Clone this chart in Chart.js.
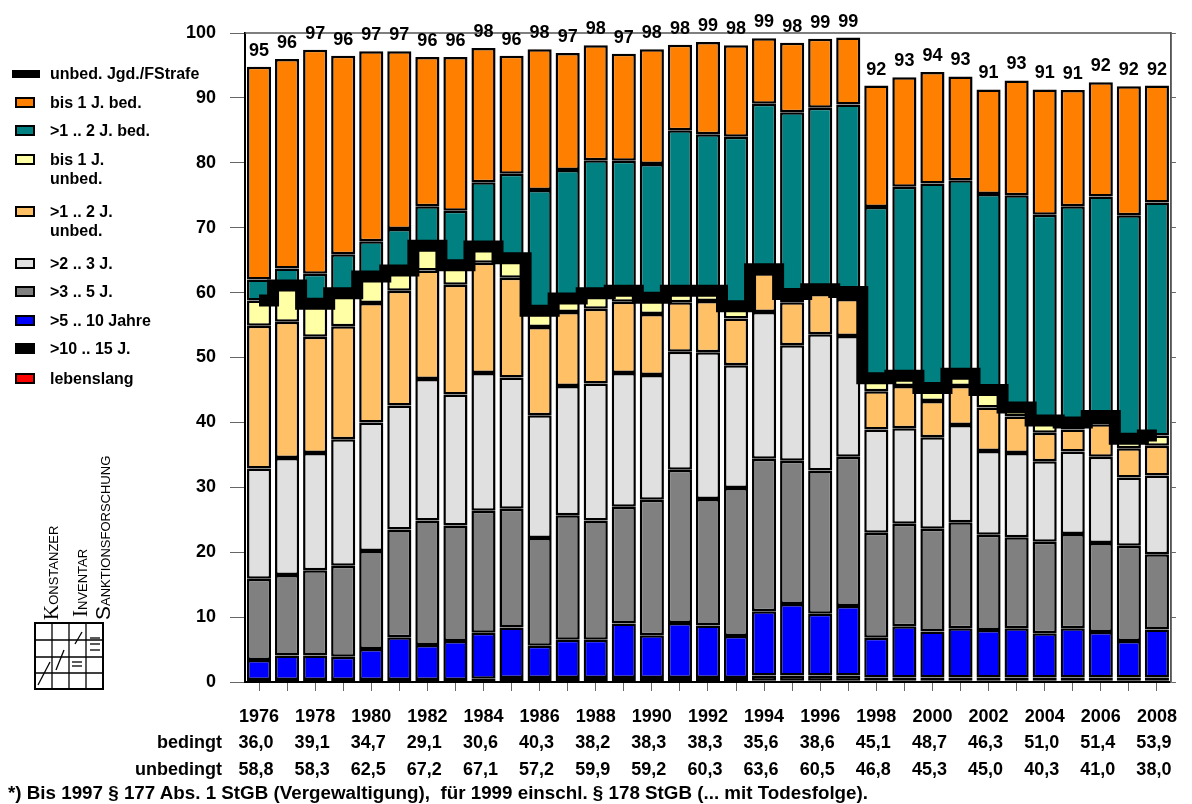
<!DOCTYPE html>
<html lang="de">
<head>
<meta charset="utf-8">
<title>Sanktionen Vergewaltigung</title>
<script src="https://cdn.jsdelivr.net/npm/chart.js@4.4.1/dist/chart.umd.min.js"></script>
<style>
    body { margin: 0; background: #fff; font-family: "Liberation Sans", Arial, sans-serif; }
    #wrap { position: relative; width: 1192px; height: 804px; overflow: hidden; }
    #chart { position: absolute; left: 0; top: 0; }
    .leg { position: absolute; left: 0; top: 0; width: 240px; height: 420px; font-weight: bold; font-size: 16px; color: #000; }
    .leg .item { position: absolute; left: 50px; line-height: 19px; white-space: nowrap; }
    .leg .box { position: absolute; width: 16px; height: 7px; border: 2px solid #000; }
    .row { position: absolute; left: 0; width: 1192px; height: 22px; font-weight: bold; font-size: 18px; color: #000; white-space: nowrap; }
    .cell { position: absolute; top: 0; transform: translateX(-50%); }
    .rowname { position: absolute; top: 0; right: 970px; }
    #note { position: absolute; left: 8px; top: 782px; font-weight: bold; font-size: 18.8px; white-space: nowrap; }
</style>
</head>
<body>
<div id="wrap">
    <canvas id="chart" width="1192" height="804"></canvas>
    <div class="leg" id="legend"></div>
    <svg id="logo" width="130" height="300" style="position:absolute;left:20px;top:400px">
        <g font-family="Liberation Sans, Arial, sans-serif" fill="#000">
            <text transform="translate(38,220) rotate(-90)" font-size="13"><tspan font-family="Liberation Serif" font-size="21">K</tspan>ONSTANZER</text>
            <text transform="translate(67,217) rotate(-90)" font-size="13"><tspan font-family="Liberation Serif" font-size="21">I</tspan>NVENTAR</text>
            <text transform="translate(90,220) rotate(-90)" font-size="13"><tspan font-size="21">S</tspan>ANKTIONSFORSCHUNG</text>
        </g>
        <g stroke="#000" fill="none" stroke-width="1.3">
            <rect x="15" y="223" width="68" height="66" stroke-width="2"/>
            <line x1="15" y1="240" x2="83" y2="240"/>
            <line x1="15" y1="257" x2="83" y2="257"/>
            <line x1="15" y1="273" x2="83" y2="273"/>
            <line x1="32" y1="223" x2="32" y2="289"/>
            <line x1="49" y1="223" x2="49" y2="289"/>
            <line x1="66" y1="223" x2="66" y2="289"/>
            <line x1="18" y1="285" x2="30" y2="262"/>
            <line x1="36" y1="270" x2="44" y2="250"/>
            <line x1="55" y1="244" x2="62" y2="232"/>
            <line x1="70" y1="238" x2="80" y2="238"/>
            <line x1="70" y1="244" x2="80" y2="244"/>
            <line x1="70" y1="250" x2="80" y2="250"/>
            <line x1="52" y1="262" x2="62" y2="262"/>
            <line x1="52" y1="266" x2="62" y2="266"/>
        </g>
    </svg>
    <div class="row" id="rowYearsB" style="top:732px"><span class="rowname">bedingt</span></div>
    <div class="row" id="rowYearsU" style="top:759px"><span class="rowname">unbedingt</span></div>
    <div id="note">*) Bis 1997 § 177 Abs. 1 StGB (Vergewaltigung),&nbsp; für 1999 einschl. § 178 StGB (... mit Todesfolge).</div>
</div>
<script>
// Jahre (Kategorien)
const jahre = ['1976', '1977', '1978', '1979', '1980', '1981', '1982', '1983', '1984', '1985',
    '1986', '1987', '1988', '1989', '1990', '1991', '1992', '1993', '1994', '1995',
    '1996', '1997', '1998', '1999', '2000', '2001', '2002', '2003', '2004', '2005',
    '2006', '2007', '2008'];

// Anteile in % (von unten nach oben gestapelt)
const lebenslang = [0.1, 0.1, 0.1, 0.1, 0.1, 0.1, 0.1, 0.1, 0.1, 0.1,
    0.1, 0.1, 0.1, 0.1, 0.1, 0.1, 0.1, 0.1, 0.2, 0.2,
    0.2, 0.2, 0.2, 0.2, 0.2, 0.2, 0.2, 0.2, 0.2, 0.2,
    0.2, 0.2, 0.2];
const j10bis15 = [0.2, 0.2, 0.2, 0.2, 0.2, 0.2, 0.2, 0.2, 0.4, 0.5,
    0.5, 0.5, 0.5, 0.5, 0.5, 0.5, 0.5, 0.5, 0.8, 0.8,
    0.8, 0.8, 0.5, 0.5, 0.5, 0.5, 0.5, 0.5, 0.5, 0.5,
    0.5, 0.5, 0.5];
const j5bis10 = [3.1, 3.8, 3.8, 3.6, 4.8, 6.6, 5.4, 6.0, 7.1, 7.8,
    5.0, 5.9, 5.9, 8.4, 6.6, 8.5, 8.1, 6.5, 9.9, 11.0,
    9.5, 10.7, 6.1, 7.9, 7.1, 7.6, 7.3, 7.6, 6.8, 7.6,
    7.0, 5.6, 7.4];
const j3bis5 = [12.5, 12.4, 13.1, 14.0, 15.1, 16.6, 19.2, 17.8, 18.8, 18.3,
    16.6, 19.2, 18.4, 18.0, 20.9, 23.6, 19.5, 22.8, 23.5, 22.1,
    22.1, 23.0, 16.2, 15.8, 15.8, 16.3, 14.7, 14.0, 14.1, 14.5,
    13.7, 14.7, 11.6];
const j2bis3 = [17.0, 18.0, 18.1, 19.5, 19.8, 19.1, 21.8, 20.2, 21.2, 20.2,
    18.9, 19.9, 21.1, 20.6, 19.2, 18.2, 22.6, 18.9, 22.6, 17.8,
    21.0, 18.6, 15.9, 14.7, 14.1, 15.0, 12.9, 13.0, 12.4, 12.7,
    13.3, 10.5, 12.1];
const j1bis2Unbed = [22.0, 21.0, 17.9, 17.4, 18.4, 17.7, 16.7, 16.9, 17.0, 15.4,
    13.6, 11.4, 11.5, 11.0, 9.4, 7.6, 7.9, 7.2, 6.0, 6.6,
    6.2, 5.7, 5.9, 6.5, 5.6, 6.0, 6.7, 5.6, 4.4, 3.4,
    5.0, 4.5, 4.6];
const bis1Unbed = [3.9, 5.6, 5.1, 5.1, 4.1, 3.1, 3.8, 3.0, 2.5, 3.0,
    2.5, 2.1, 2.4, 1.7, 2.5, 1.8, 1.6, 1.9, 0.6, 1.3,
    0.7, 1.1, 2.0, 1.6, 2.0, 1.9, 2.7, 1.4, 1.9, 1.1,
    1.3, 1.5, 1.6];
const j1bis2Bed = [3.2, 2.6, 4.6, 6.0, 5.4, 6.4, 6.1, 8.4, 9.9, 13.0,
    18.6, 19.8, 20.5, 20.0, 20.6, 24.7, 24.1, 26.1, 25.5, 28.0,
    28.0, 28.9, 26.4, 29.1, 31.5, 29.8, 30.2, 32.7, 31.7, 33.3,
    33.8, 34.4, 35.9];
const bis1Bed = [32.8, 32.3, 34.5, 30.6, 29.3, 27.4, 23.0, 23.7, 20.7, 18.2,
    21.7, 18.0, 17.7, 16.5, 17.7, 13.2, 14.2, 14.1, 10.1, 10.7,
    10.6, 10.3, 18.7, 16.9, 17.2, 16.0, 16.1, 17.7, 19.3, 17.9,
    17.6, 19.9, 18.0];

// Beschriftung über den Säulen
const summenText = [95, 96, 97, 96, 97, 97, 96, 96, 98, 96, 98, 97, 98, 97, 98, 98, 99,
    98, 99, 98, 99, 99, 92, 93, 94, 93, 91, 93, 91, 91, 92, 92, 92];

// Tabelle unter der Grafik (nur gerade Jahre)
const tabJahre = ['1976', '1978', '1980', '1982', '1984', '1986', '1988', '1990', '1992',
    '1994', '1996', '1998', '2000', '2002', '2004', '2006', '2008'];
const tabBedingt = ['36,0', '39,1', '34,7', '29,1', '30,6', '40,3', '38,2', '38,3', '38,3',
    '35,6', '38,6', '45,1', '48,7', '46,3', '51,0', '51,4', '53,9'];
const tabUnbedingt = ['58,8', '58,3', '62,5', '67,2', '67,1', '57,2', '59,9', '59,2', '60,3',
    '63,6', '60,5', '46,8', '45,3', '45,0', '40,3', '41,0', '38,0'];

document.addEventListener("DOMContentLoaded", function () {
    const fett = {family: '"Liberation Sans", Arial, sans-serif', weight: 'bold'};

    const balken = [
        {label: 'lebenslang', data: lebenslang, color: '#FF0000'},
        {label: '>10 .. 15 J.', data: j10bis15, color: '#000000'},
        {label: '>5 .. 10 Jahre', data: j5bis10, color: '#0000FF'},
        {label: '>3 .. 5 J.', data: j3bis5, color: '#808080'},
        {label: '>2 .. 3 J.', data: j2bis3, color: '#E0E0E0'},
        {label: '>1 .. 2 J. unbed.', data: j1bis2Unbed, color: '#FFC066'},
        {label: 'bis 1 J. unbed.', data: bis1Unbed, color: '#FFFFA6'},
        {label: '>1 .. 2 J. bed.', data: j1bis2Bed, color: '#008080'},
        {label: 'bis 1 J. bed.', data: bis1Bed, color: '#FF8000'}
    ];

    // unbedingte Strafen = Summe der unteren sieben Stufen
    const unbedSumme = jahre.map((j, i) => {
        let s = 0;
        for (let k = 0; k < 7; k++) s += balken[k].data[i];
        return Math.round(s * 10) / 10;
    });

    const datasets = balken.map(b => ({
        type: 'bar',
        label: b.label,
        data: b.data,
        backgroundColor: b.color,
        borderColor: '#000',
        borderWidth: 2.5,
        borderSkipped: false,
        barPercentage: 0.86,
        categoryPercentage: 1.0,
        order: 1
    }));
    datasets.push({
        type: 'line',
        label: 'unbed. Jgd./FStrafe',
        data: unbedSumme,
        yAxisID: 'yL',
        borderColor: '#000',
        borderWidth: 12,
        stepped: 'middle',
        pointRadius: 0,
        fill: false,
        order: 0
    });

    // Summen über den Säulen + Rahmen
    const summenPlugin = {
        id: 'summen',
        afterDatasetsDraw(chart) {
            const ctx = chart.ctx;
            const a = chart.chartArea;
            ctx.save();
            ctx.strokeStyle = '#555';
            ctx.lineWidth = 1.5;
            ctx.beginPath();
            ctx.moveTo(a.left, a.top);
            ctx.lineTo(a.right, a.top);
            ctx.lineTo(a.right, a.bottom);
            ctx.stroke();
            ctx.font = 'bold 18px "Liberation Sans", Arial, sans-serif';
            ctx.fillStyle = '#000';
            ctx.textAlign = 'center';
            ctx.textBaseline = 'bottom';
            jahre.forEach((j, i) => {
                let s = 0;
                balken.forEach(b => s += b.data[i]);
                const x = chart.scales.x.getPixelForValue(i);
                const y = chart.scales.y.getPixelForValue(s);
                ctx.fillText(String(summenText[i]), x, y - 7);
            });
            ctx.restore();
        }
    };

    const chart = new Chart(document.getElementById('chart'), {
        data: {labels: jahre, datasets: datasets},
        options: {
            responsive: false,
            animation: false,
            layout: {padding: {top: 33, left: 0, right: 0, bottom: 0}},
            plugins: {legend: {display: false}, tooltip: {enabled: false}},
            scales: {
                x: {
                    stacked: true,
                    grid: {drawOnChartArea: false, tickLength: 9, color: '#666', offset: false},
                    border: {color: '#000', width: 2},
                    ticks: {
                        autoSkip: false, maxRotation: 0, padding: 15, color: '#000',
                        font: Object.assign({size: 18}, fett),
                        callback: (v, i) => (i % 2 === 0 ? jahre[i] : '')
                    },
                    afterFit: s => { s.height = 122; }
                },
                y: {
                    stacked: true, min: 0, max: 100,
                    grid: {drawOnChartArea: false, tickLength: 15, color: '#666'},
                    border: {color: '#000', width: 2},
                    ticks: {stepSize: 10, padding: 14, color: '#000', font: Object.assign({size: 18}, fett)},
                    afterFit: s => { s.width = 245; }
                },
                y2: {
                    position: 'right', min: 0, max: 100,
                    grid: {drawOnChartArea: false, tickLength: 5, color: '#666'},
                    border: {color: '#555', width: 1.5},
                    ticks: {stepSize: 10, display: false},
                    afterFit: s => { s.width = 5; }
                },
                yL: {display: false, min: 0, max: 100, stacked: false}
            }
        },
        plugins: [summenPlugin]
    });

    // Legende links
    const leg = document.getElementById('legend');
    const legEintraege = [
        {text: ['unbed. Jgd./FStrafe'], line: true, top: 64},
        {text: ['bis 1 J. bed.'], color: '#FF8000', top: 93},
        {text: ['>1 .. 2 J. bed.'], color: '#008080', top: 121},
        {text: ['bis 1 J.', 'unbed.'], color: '#FFFFA6', top: 150},
        {text: ['>1 .. 2 J.', 'unbed.'], color: '#FFC066', top: 202},
        {text: ['>2 .. 3 J.'], color: '#E0E0E0', top: 254},
        {text: ['>3 .. 5 J.'], color: '#808080', top: 282},
        {text: ['>5 .. 10 Jahre'], color: '#0000FF', top: 311},
        {text: ['>10 .. 15 J.'], color: '#000000', top: 339},
        {text: ['lebenslang'], color: '#FF0000', top: 369}
    ];
    legEintraege.forEach(e => {
        const m = document.createElement('div');
        if (e.line) {
            m.style.cssText = 'position:absolute;left:12px;width:28px;height:8px;background:#000;top:' + (e.top + 6) + 'px';
        } else {
            m.className = 'box';
            m.style.background = e.color;
            m.style.left = '15px';
            m.style.top = (e.top + 4) + 'px';
        }
        leg.appendChild(m);
        const t = document.createElement('div');
        t.className = 'item';
        t.style.top = e.top + 'px';
        t.innerHTML = e.text.join('<br>');
        leg.appendChild(t);
    });

    // Tabelle bedingt / unbedingt unter den geraden Jahren
    const rowB = document.getElementById('rowYearsB');
    const rowU = document.getElementById('rowYearsU');
    tabJahre.forEach((j, k) => {
        const x = chart.scales.x.getPixelForValue(jahre.indexOf(j)) - 3;
        const b = document.createElement('span');
        b.className = 'cell';
        b.style.left = x + 'px';
        b.textContent = tabBedingt[k];
        rowB.appendChild(b);
        const u = document.createElement('span');
        u.className = 'cell';
        u.style.left = x + 'px';
        u.textContent = tabUnbedingt[k];
        rowU.appendChild(u);
    });
});
</script>
</body>
</html>
